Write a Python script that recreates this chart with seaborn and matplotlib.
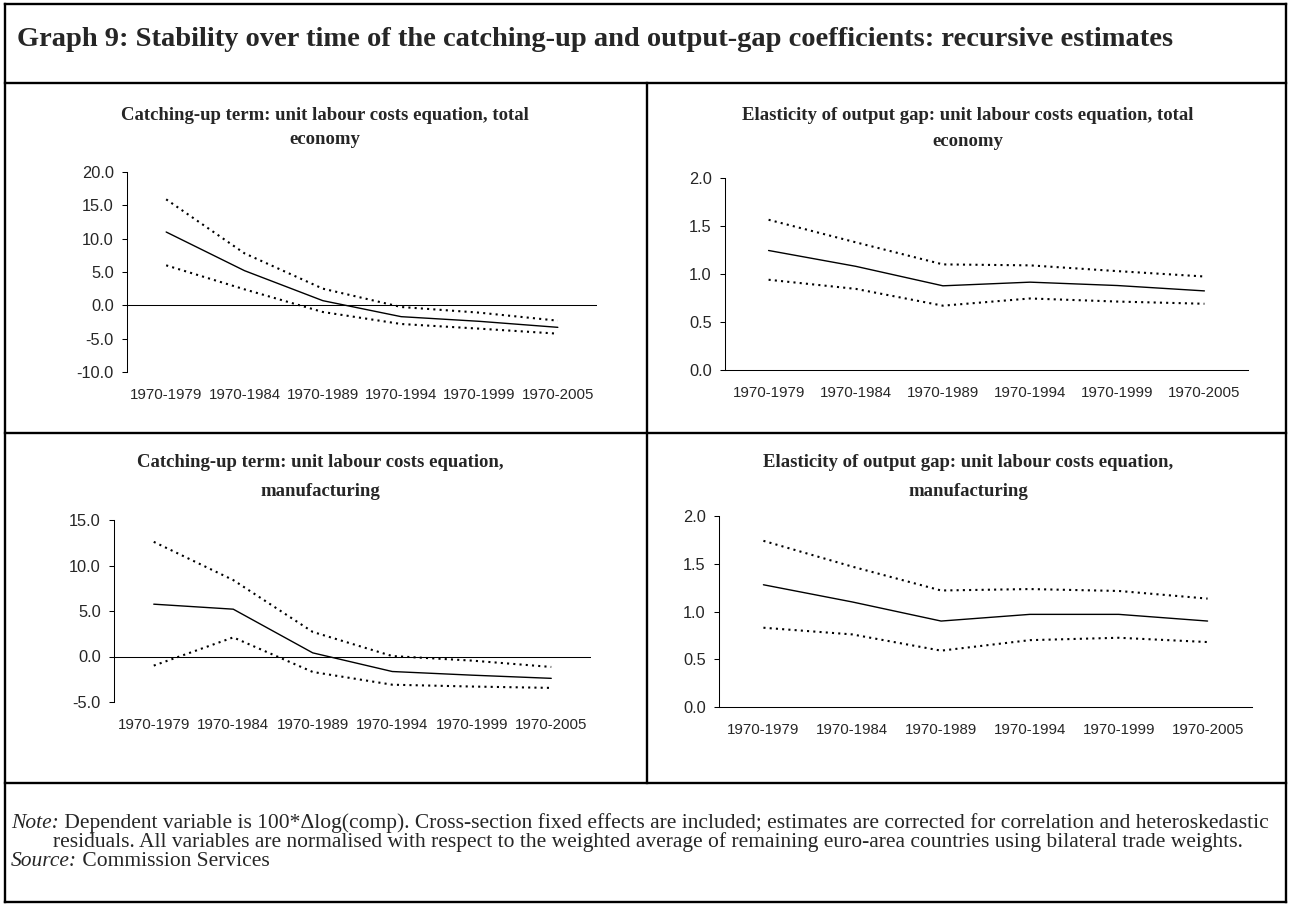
import numpy as np
import pandas as pd
import seaborn as sns
import matplotlib
matplotlib.use('Agg')
from matplotlib import pyplot as plt
from matplotlib.lines import Line2D
from matplotlib.ticker import FormatStrFormatter

W, H = 1289, 906

# recursive estimation windows
periods = ['1970-1979', '1970-1984', '1970-1989', '1970-1994', '1970-1999', '1970-2005']

# catching-up term, total economy
catch_total = [11.0, 5.2, 0.7, -1.7, -2.4, -3.3]
catch_total_hi = [15.9, 7.8, 2.5, -0.25, -1.1, -2.3]
catch_total_lo = [6.0, 2.4, -1.0, -2.8, -3.5, -4.25]

# output gap elasticity, total economy
gap_total = [1.245, 1.08, 0.877, 0.915, 0.88, 0.824]
gap_total_hi = [1.565, 1.33, 1.10, 1.09, 1.03, 0.974]
gap_total_lo = [0.94, 0.845, 0.67, 0.745, 0.713, 0.69]

# catching-up term, manufacturing
catch_manuf = [5.75, 5.2, 0.4, -1.65, -2.05, -2.4]
catch_manuf_hi = [12.6, 8.4, 2.7, 0.05, -0.45, -1.15]
catch_manuf_lo = [-1.0, 2.1, -1.7, -3.1, -3.3, -3.45]

# output gap elasticity, manufacturing
gap_manuf = [1.28, 1.10, 0.90, 0.97, 0.97, 0.90]
gap_manuf_hi = [1.74, 1.47, 1.22, 1.235, 1.215, 1.135]
gap_manuf_lo = [0.83, 0.76, 0.59, 0.70, 0.725, 0.68]

main_title = ('Graph 9: Stability over time of the catching-up and output-gap '
              'coefficients: recursive estimates')
panel_titles = [
    ['Catching-up term: unit labour costs equation, total', 'economy'],
    ['Elasticity of output gap: unit labour costs equation, total', 'economy'],
    ['Catching-up term: unit labour costs equation,', 'manufacturing'],
    ['Elasticity of output gap: unit labour costs equation,', 'manufacturing'],
]

sns.set_style('ticks')
plt.rcParams['font.family'] = ['Liberation Sans', 'DejaVu Sans']
SERIF = ['Liberation Serif', 'DejaVu Serif']

fig = plt.figure(figsize=(W / 100, H / 100), dpi=100)


def px_axes(l, t, r, b):
    return fig.add_axes([l / W, 1 - b / H, (r - l) / W, (b - t) / H])


def fig_line(x0, y0, x1, y1, lw=1.7):
    fig.add_artist(Line2D([x0 / W, x1 / W], [1 - y0 / H, 1 - y1 / H],
                          transform=fig.transFigure, color='black', lw=lw,
                          solid_capstyle='projecting'))


# frame of the graph box
fig_line(5, 4, 1286, 4)
fig_line(5, 902, 1286, 902)
fig_line(5, 4, 5, 902)
fig_line(1286, 4, 1286, 902)
fig_line(5, 83, 1286, 83)
fig_line(5, 433, 1286, 433)
fig_line(5, 783, 1286, 783)
fig_line(647, 83, 647, 783)

fig.text(17 / W, 1 - 39 / H, main_title, family=SERIF, weight='bold',
         fontsize=20.5, ha='left', va='center')

panels = [
    dict(box=(127, 172, 597, 372), est=catch_total, hi=catch_total_hi, lo=catch_total_lo,
         ylim=(-10, 20), step=5, zero=True, tx=325, ty=(115, 140)),
    dict(box=(725, 178, 1248, 370), est=gap_total, hi=gap_total_hi, lo=gap_total_lo,
         ylim=(0, 2), step=0.5, zero=False, tx=968, ty=(115, 141)),
    dict(box=(114, 520, 591, 702), est=catch_manuf, hi=catch_manuf_hi, lo=catch_manuf_lo,
         ylim=(-5, 15), step=5, zero=True, tx=320, ty=(463, 491)),
    dict(box=(719, 516, 1252, 707), est=gap_manuf, hi=gap_manuf_hi, lo=gap_manuf_lo,
         ylim=(0, 2), step=0.5, zero=False, tx=968, ty=(463, 491)),
]

for p, title in zip(panels, panel_titles):
    ax = px_axes(*p['box'])
    for vals, ls, lw in [(p['hi'], (0, (1, 2)), 1.5),
                         (p['lo'], (0, (1, 2)), 1.5),
                         (p['est'], '-', 1.0)]:
        sns.lineplot(x=periods, y=vals, ax=ax, color='black', linewidth=lw,
                     linestyle=ls, sort=False, legend=False)
    ax.set_xlim(-0.5, len(periods) - 0.5)
    ax.set_ylim(*p['ylim'])
    ax.set_yticks(np.arange(p['ylim'][0], p['ylim'][1] + p['step'] / 2, p['step']))
    ax.yaxis.set_major_formatter(FormatStrFormatter('%.1f'))
    ax.set_xlabel('')
    ax.set_ylabel('')
    ax.tick_params(axis='y', direction='out', length=3.6, width=0.75, pad=6,
                   labelsize=11.8, color='black')
    ax.tick_params(axis='x', length=0, pad=11.5, labelsize=10.8)
    sns.despine(ax=ax, top=True, right=True, bottom=p['zero'])
    for side in ['left', 'bottom']:
        ax.spines[side].set_linewidth(0.75)
        ax.spines[side].set_color('black')
    if p['zero']:
        ax.axhline(0, color='black', lw=0.75)
    for line_txt, y in zip(title, p['ty']):
        fig.text(p['tx'] / W, 1 - y / H, line_txt, family=SERIF, weight='bold',
                 fontsize=13.5, ha='center', va='center')

# note and source with italic lead words
renderer = fig.canvas.get_renderer()
NOTE_SIZE = 15.5


def lead_text(x, y, lead, rest, size=NOTE_SIZE):
    t = fig.text(x / W, 1 - y / H, lead, family=SERIF, style='italic',
                 fontsize=size, ha='left', va='center')
    bb = t.get_window_extent(renderer)
    fig.text(bb.x1 / W, 1 - y / H, ' ' + rest, family=SERIF, fontsize=size,
             ha='left', va='center')


lead_text(11, 823, 'Note:',
          'Dependent variable is 100*\u0394log(comp). Cross-section fixed effects are '
          'included; estimates are corrected for correlation and heteroskedastic')
fig.text(53 / W, 1 - 842 / H,
         'residuals. All variables are normalised with respect to the weighted average '
         'of remaining euro-area countries using bilateral trade weights.',
         family=SERIF, fontsize=NOTE_SIZE, ha='left', va='center')
lead_text(11, 861, 'Source:', 'Commission Services')

fig.savefig('out.png', dpi=100)
